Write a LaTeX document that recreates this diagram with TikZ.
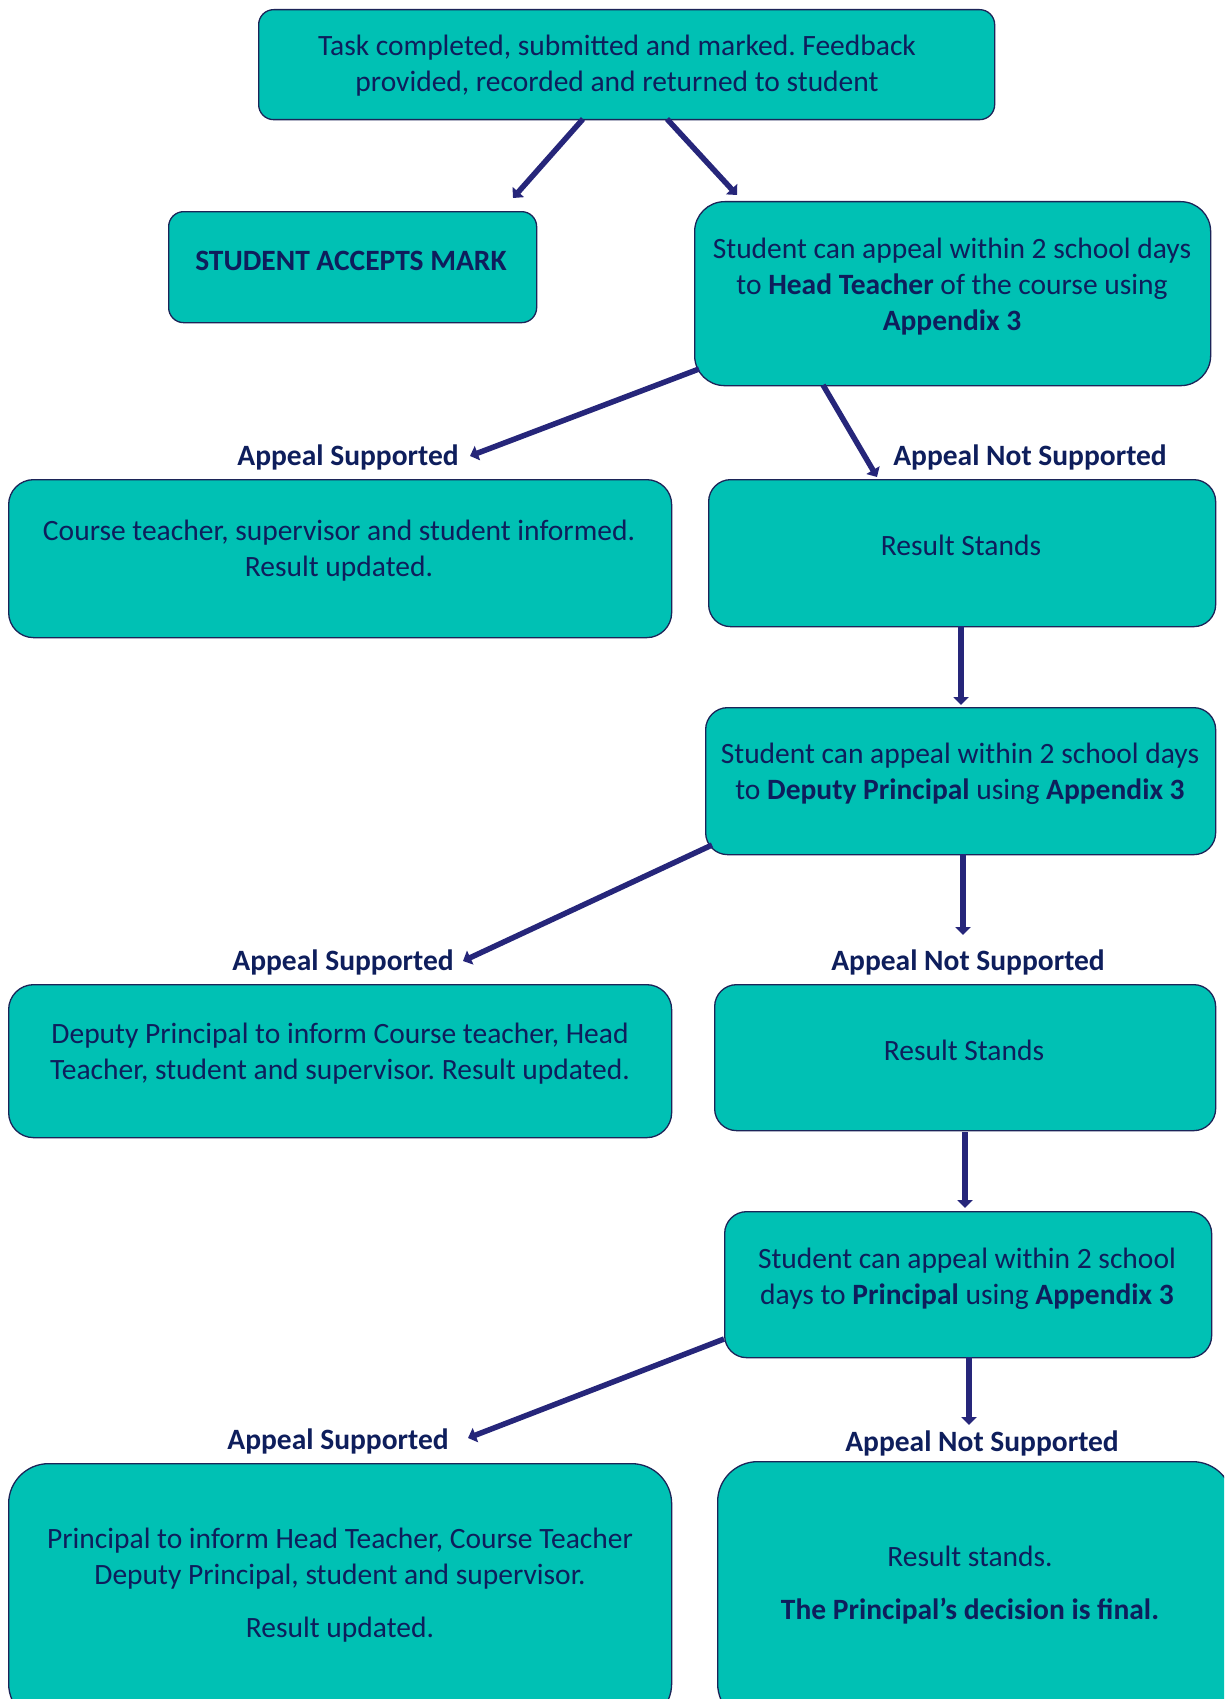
\documentclass[tikz,border=0pt]{standalone}
\usepackage{fontspec}
\setmainfont{Carlito}
\frenchspacing
\usetikzlibrary{arrows.meta}
\definecolor{teal1}{RGB}{0,193,180}
\definecolor{navytext}{RGB}{14,30,92}
\definecolor{arrowc}{RGB}{38,38,122}
\definecolor{borderc}{RGB}{28,36,88}
\tikzset{
  box/.style={draw=borderc, line width=1.3pt, fill=teal1, inner sep=0pt, anchor=north west},
  txt/.style={text=navytext, align=center, font=\fontsize{29.5}{36}\selectfont, inner sep=0pt},
  lbl/.style={text=navytext, font=\fontsize{29.5}{36}\selectfont\bfseries, inner sep=0pt},
  arr/.style={draw=arrowc, line width=5.5pt, -{Triangle[width=15pt,length=8pt]}},
}
\begin{document}
\begin{tikzpicture}[x=1pt,y=-1pt]
\clip (0,0) rectangle (1224,1699);
\fill[white] (0,0) rectangle (1224,1699);
% boxes
\node[box, rounded corners=15pt, minimum width=736pt, minimum height=110pt] (top) at (258,9) {};
\node[box, rounded corners=15pt, minimum width=368pt, minimum height=111pt] (accept) at (168,211) {};
\node[box, rounded corners=30pt, minimum width=516pt, minimum height=184pt] (ht) at (694,201) {};
\node[box, rounded corners=25pt, minimum width=663pt, minimum height=158pt] (ct) at (8,479) {};
\node[box, rounded corners=22pt, minimum width=507pt, minimum height=147pt] (rs1) at (708,479) {};
\node[box, rounded corners=22pt, minimum width=510pt, minimum height=147pt] (dep) at (705,707) {};
\node[box, rounded corners=25pt, minimum width=663pt, minimum height=153pt] (dp) at (8,984) {};
\node[box, rounded corners=22pt, minimum width=501pt, minimum height=146pt] (rs2) at (714,984) {};
\node[box, rounded corners=22pt, minimum width=487pt, minimum height=146pt] (pr) at (724,1211) {};
\node[box, rounded corners=40pt, minimum width=663pt, minimum height=260pt] (pb) at (8,1463) {};
\node[box, rounded corners=40pt, minimum width=515pt, minimum height=262pt] (rf) at (717,1461) {};
% texts
\node[txt] (ttop) at (617,66) {Task completed, submitted and marked. Feedback\\provided, recorded and returned to student};
\node[txt, font=\fontsize{29.5}{36}\selectfont\bfseries] (taccept) at (351,261) {STUDENT ACCEPTS MARK};
\node[txt] (tht) at (952,287) {Student can appeal within 2 school days\\to \textbf{Head Teacher} of the course using\\\textbf{Appendix 3}};
\node[txt] (tct) at (339,551) {Course teacher, supervisor and student informed.\\Result updated.};
\node[txt] (trs1) at (961,545) {Result Stands};
\node[txt] (tdep) at (960,774) {Student can appeal within 2 school days\\to \textbf{Deputy Principal} using \textbf{Appendix 3}};
\node[txt] (tdp) at (340,1054) {Deputy Principal to inform Course teacher, Head\\Teacher, student and supervisor. Result updated.};
\node[txt] (trs2) at (964,1050) {Result Stands};
\node[txt] (tpr) at (967,1279) {Student can appeal within 2 school\\days to \textbf{Principal} using \textbf{Appendix 3}};
\node[txt] (tpb) at (340,1585) {Principal to inform Head Teacher, Course Teacher\\Deputy Principal, student and supervisor.\\[17pt]Result updated.};
\node[txt] (trf) at (970,1585) {Result stands.\\[17pt]\textbf{The Principal’s decision is final.}};
% labels
\node[lbl] (as1) at (348,457) {Appeal Supported};
\node[lbl] (ans1) at (1030,457) {Appeal Not Supported};
\node[lbl] (as2) at (343,962) {Appeal Supported};
\node[lbl] (ans2) at (968,962) {Appeal Not Supported};
\node[lbl] (as3) at (338,1441) {Appeal Supported};
\node[lbl] (ans3) at (982,1443) {Appeal Not Supported};
% connector end points
\coordinate (a1s) at (583,119); \coordinate (a1e) at (513,198);
\coordinate (a2s) at (667,119); \coordinate (a2e) at (737,195);
\coordinate (a3s) at (699,369); \coordinate (a3e) at (470,456);
\coordinate (a4s) at (823,385); \coordinate (a4e) at (877,477);
\coordinate (a5s) at (961,626); \coordinate (a5e) at (961,705);
\coordinate (a6s) at (712,845); \coordinate (a6e) at (463,961);
\coordinate (a7s) at (963,854); \coordinate (a7e) at (963,935);
\coordinate (a8s) at (965,1132); \coordinate (a8e) at (965,1208);
\coordinate (a9s) at (724,1339); \coordinate (a9e) at (468,1438);
\coordinate (a10s) at (969,1357); \coordinate (a10e) at (969,1425);
% connectors
\draw[arr] (a1s) -- (a1e);
\draw[arr] (a2s) -- (a2e);
\draw[arr] (a3s) -- (a3e);
\draw[arr] (a4s) -- (a4e);
\draw[arr] (a5s) -- (a5e);
\draw[arr] (a6s) -- (a6e);
\draw[arr] (a7s) -- (a7e);
\draw[arr] (a8s) -- (a8e);
\draw[arr] (a9s) -- (a9e);
\draw[arr] (a10s) -- (a10e);
\end{tikzpicture}
\end{document}
